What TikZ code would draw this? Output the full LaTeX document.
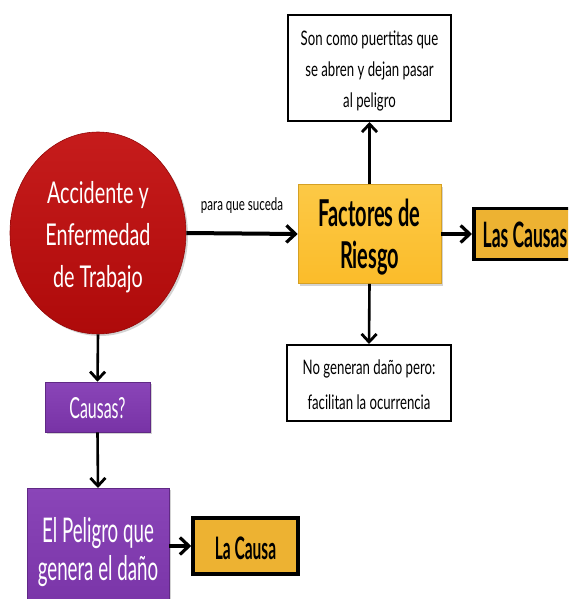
\documentclass[tikz,border=0pt]{standalone}
\usepackage{fontspec}
\setmainfont{Lato}[FakeStretch=0.66]
\newfontfamily\condfont{Lato}[FakeStretch=0.55]
\newfontfamily\condbold{Lato}[FakeStretch=0.5,UprightFont=* Bold]
\newfontfamily\facbold{Lato}[FakeStretch=0.54,UprightFont=* Bold]
\usetikzlibrary{arrows.meta,shapes.geometric,shadows}
\definecolor{cRed}{HTML}{AE0A0A}
\definecolor{cRedL}{HTML}{C61C1C}
\definecolor{cGold}{HTML}{FBBC2A}
\definecolor{cGoldL}{HTML}{FCC946}
\definecolor{cGoldD}{HTML}{EDB232}
\definecolor{cPurple}{HTML}{7833A6}
\definecolor{cPurpleL}{HTML}{8A45B8}
\tikzset{
  conn/.style={line width=2.6pt,-{Straight Barb[length=8pt,width=15pt,line width=2.8pt]}},
  connthick/.style={line width=4pt,-{Straight Barb[length=9pt,width=17pt,line width=3.2pt]}},
  notebox/.style={draw=black,line width=2pt,fill=white,inner sep=0pt},
  notetext/.style={align=center,inner sep=0pt},
  goldbox/.style={draw=black,line width=3.5pt,fill=cGoldD,inner sep=0pt},
  purplebox/.style={draw=cPurple!80!black,line width=0.6pt,top color=cPurpleL,bottom color=cPurple,
    inner sep=0pt,drop shadow={opacity=0.35,shadow xshift=2pt,shadow yshift=-2pt}},
  softshadow/.style={drop shadow={opacity=0.35,shadow xshift=2pt,shadow yshift=-2pt}},
  whitetext/.style={text=white,align=center,inner sep=0pt},
  blacktext/.style={text=black,align=center,inner sep=0pt},
  lbl/.style={font=\fontsize{17.5}{20}\selectfont,inner sep=0pt}
}
\begin{document}
\begin{tikzpicture}[x=1pt,y=-1pt]
\useasboundingbox (0,0) rectangle (568,599);
\clip (0,0) rectangle (568,599);
% circle
\node[ellipse,minimum width=176pt,minimum height=202pt,inner sep=0pt,
  draw=cRed!85!black,line width=0.6pt,top color=cRedL,bottom color=cRed,softshadow] (acc) at (98,233) {};
\node[whitetext,font=\fontsize{30}{42}\selectfont] (acctxt) at (98,237)
  {Accidente y\\Enfermedad\\de Trabajo};
% factores
\node[draw=cGold!85!black,line width=0.6pt,top color=cGoldL,bottom color=cGold,softshadow,
  minimum width=143pt,minimum height=99pt,inner sep=0pt] (fac) at (369.5,234) {};
\node[blacktext,font=\facbold\fontsize{37}{42}\selectfont] (factxt) at (369.5,237)
  {Factores de\\Riesgo};
% notes
\node[notebox,minimum width=163pt,minimum height=106pt] (top) at (369.5,68) {};
\node[notetext,font=\fontsize{20}{31}\selectfont] (toptxt) at (369.5,71)
  {Son como puertitas que\\se abren y dejan pasar\\al peligro};
\node[notebox,minimum width=164pt,minimum height=76pt] (bot) at (369,383) {};
\node[notetext,font=\fontsize{20}{35}\selectfont] (bottxt) at (369,385)
  {No generan daño pero:\\facilitan la ocurrencia};
% las causas
\node[goldbox,minimum width=110pt,minimum height=51pt,anchor=west] (lc) at (472,234) {};
\node[blacktext,anchor=west,font=\condbold\fontsize{35}{40}\selectfont] (lctxt) at (482.5,235) {Las Causas};
% purple
\node[purplebox,minimum width=105pt,minimum height=50pt] (cau) at (97.5,407) {};
\node[whitetext,font=\condfont\fontsize{29}{34}\selectfont] (cautxt) at (97.5,408) {Causas?};
\node[purplebox,minimum width=142pt,minimum height=130pt,anchor=north] (pel) at (98,488) {};
\node[whitetext,font=\condfont\fontsize{34}{38}\selectfont] (peltxt) at (98,552)
  {El Peligro que\\genera el daño};
\node[goldbox,minimum width=105pt,minimum height=56pt] (la) at (245.5,546) {};
\node[blacktext,font=\condbold\fontsize{31}{34}\selectfont] (latxt) at (245.5,548) {La Causa};
% connectors
\draw[connthick] (acc.east) -- (fac.west)
  node[lbl,midway,above=18pt] (pq) {para que suceda};
\draw[conn] (fac.north) -- (top.south);
\draw[conn] (fac.south) -- (bot.north);
\draw[connthick] (fac.east) -- (lc.west);
\draw[conn] (acc.south) -- (cau.north);
\draw[conn] (cau.south) -- (pel.north);
\draw[connthick] (pel.east |- la.west) -- (la.west);
\end{tikzpicture}
\end{document}
